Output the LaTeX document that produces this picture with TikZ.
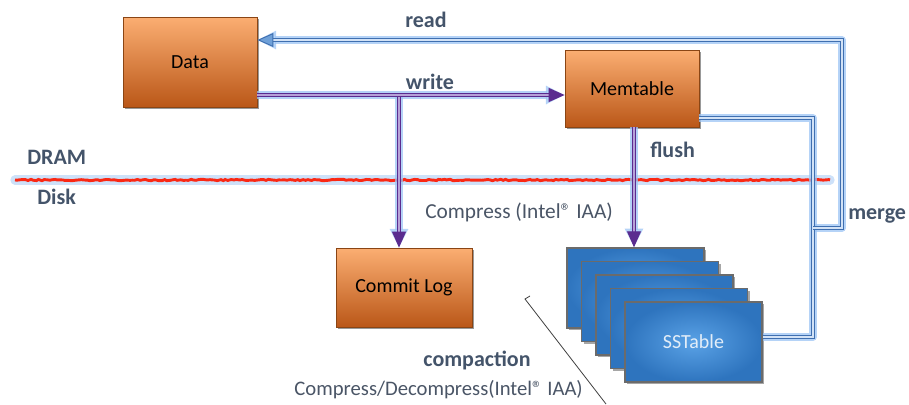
\documentclass[tikz,border=0pt]{standalone}
\usepackage{fontspec}
\setmainfont{Carlito}
\usetikzlibrary{arrows.meta,shadows,decorations.pathmorphing,calc}
\definecolor{lbl}{HTML}{44546A}
\definecolor{cmp}{HTML}{4A5566}
\definecolor{otop}{HTML}{FBAE72}
\definecolor{omid}{HTML}{F4873A}
\definecolor{obot}{HTML}{BA5718}
\definecolor{oedge}{HTML}{8A4514}
\definecolor{bmid}{HTML}{5AA2E6}
\definecolor{bedge}{HTML}{2E74BE}
\definecolor{bline}{HTML}{6B6B6B}
\definecolor{glow}{HTML}{9CC4F4}
\definecolor{pur}{HTML}{5B2C8F}
\definecolor{purin}{HTML}{B7A2D8}
\definecolor{blu}{HTML}{3F6FB0}
\definecolor{bluin}{HTML}{D2E2F6}
\definecolor{bluhead}{HTML}{6FA0D8}
\definecolor{redl}{HTML}{FA2814}
\definecolor{sstxt}{HTML}{E2EDF8}
\definecolor{diag}{HTML}{404040}
\newdimen\pxu
\pxu=0.75pt
\tikzset{
  obox/.style={rectangle, draw=oedge, line width=0.6pt, top color=otop, middle color=omid, bottom color=obot,
    inner sep=0pt, font=\fontsize{15}{18}\selectfont, text=black,
    drop shadow={shadow xshift=1.5pt, shadow yshift=-1.5pt, opacity=0.4, fill=black}},
  bbox/.style={rectangle, draw=bline, line width=1.1pt, inner color=bmid, outer color=bedge,
    inner sep=0pt, minimum width=137\pxu, minimum height=80\pxu, font=\fontsize{15}{18}\selectfont, text=sstxt,
    drop shadow={shadow xshift=1.5pt, shadow yshift=-1.5pt, opacity=0.35, fill=black}},
  glowst/.style={draw=glow, line width=5.5pt, opacity=0.75, line join=round},
  gtip/.style={-{Triangle[length=14pt, width=13pt, fill=glow]}},
  pwire/.style={draw=pur, double=purin, double distance=1.2pt, line width=0.75pt},
  bwire/.style={draw=blu, double=bluin, double distance=1.2pt, line width=0.75pt},
  lbl/.style={inner sep=0pt, text=lbl, font=\fontsize{16.5}{19}\selectfont\bfseries},
  cmpt/.style={inner sep=0pt, text=cmp, font=\fontsize{16}{19}\selectfont},
  ptip/.style={-{Triangle[length=12pt, width=10.5pt, fill=pur]}},
  btip/.style={-{Triangle[length=12pt, width=10.5pt, fill=bluhead, line width=0.7pt]}},
}
\begin{document}
\begin{tikzpicture}[x=0.75pt,y=-0.75pt]
\path[use as bounding box] (0,0) rectangle (909,404);

% DRAM / Disk separator
\draw[draw=glow, line width=7pt, opacity=0.5, line cap=round] (15,180) -- (830,180);
\draw[redl, line width=2.2pt, decorate, decoration={random steps, segment length=2pt, amplitude=0.5pt}] (15,180) -- (830,180);

% boxes
\node[obox, minimum width=134\pxu, minimum height=90\pxu] (data) at (190,62) {Data};
\node[obox, minimum width=134\pxu, minimum height=77\pxu] (mem) at (632,88.5) {Memtable};
\node[obox, minimum width=136\pxu, minimum height=79\pxu] (commit) at (404,287.5) {Commit Log};
\foreach \i in {0,...,3}{
  \node[bbox] (s\i) at ({635.5+14.5*\i},{288+13.5*\i}) {};
}
\node[bbox] (s4) at (693.5,342) {SSTable};

% junction coordinates
\coordinate (wb) at (399,95);
\coordinate (mr) at (813,118);
\coordinate (mj) at (813,228);
\coordinate (mk) at (842,228);
\coordinate (mb) at (813,337);
\coordinate (rc) at (842,40);
\coordinate (fl) at (634,127);

\def\pwrite{(data.east |- wb) -- (mem.west |- wb)}
\def\pcommit{(wb) -- (wb |- commit.north)}
\def\pflush{(fl) -- (fl |- s0.north)}
\def\pmerge{(mem.east |- mr) -- (mr) -- (mb) -- (s4.east |- mb)}
\def\pread{(mj) -- (mk) -- (rc) -- (data.east |- rc)}

% glows
\draw[glowst, gtip] \pwrite;
\draw[glowst, gtip] \pcommit;
\draw[glowst, gtip] \pflush;
\draw[glowst] \pmerge;
\draw[glowst, gtip] \pread;

% wires
\draw[pwire, ptip] \pcommit;
\draw[pwire, ptip] \pwrite;
\draw[pwire, ptip] \pflush;
\draw[bwire] \pmerge;
\draw[bwire, btip] \pread;

% labels
\node[lbl, anchor=west] (dram) at (27,157) {DRAM};
\node[lbl, anchor=west] (disk) at (37,197) {Disk};
\node[lbl] (read) at (426,20) {read};
\node[lbl] (write) at (430,82) {write};
\node[lbl, anchor=west] (flush) at (650,150) {flush};
\node[lbl, anchor=west] (merge) at (848,216) {merge};
\node[cmpt, anchor=west] (c1) at (425,212) {Compress (Intel® IAA)};
\node[lbl] (compaction) at (477,360) {compaction};
\node[cmpt, anchor=east, font=\fontsize{15.5}{19}\selectfont] (c2) at (583,390) {Compress/Decompress(Intel® IAA)};

% thin diagonal stroke
\draw[diag, line width=0.6pt] (530,296) -- (525,299) -- (606,404);
\end{tikzpicture}
\end{document}
